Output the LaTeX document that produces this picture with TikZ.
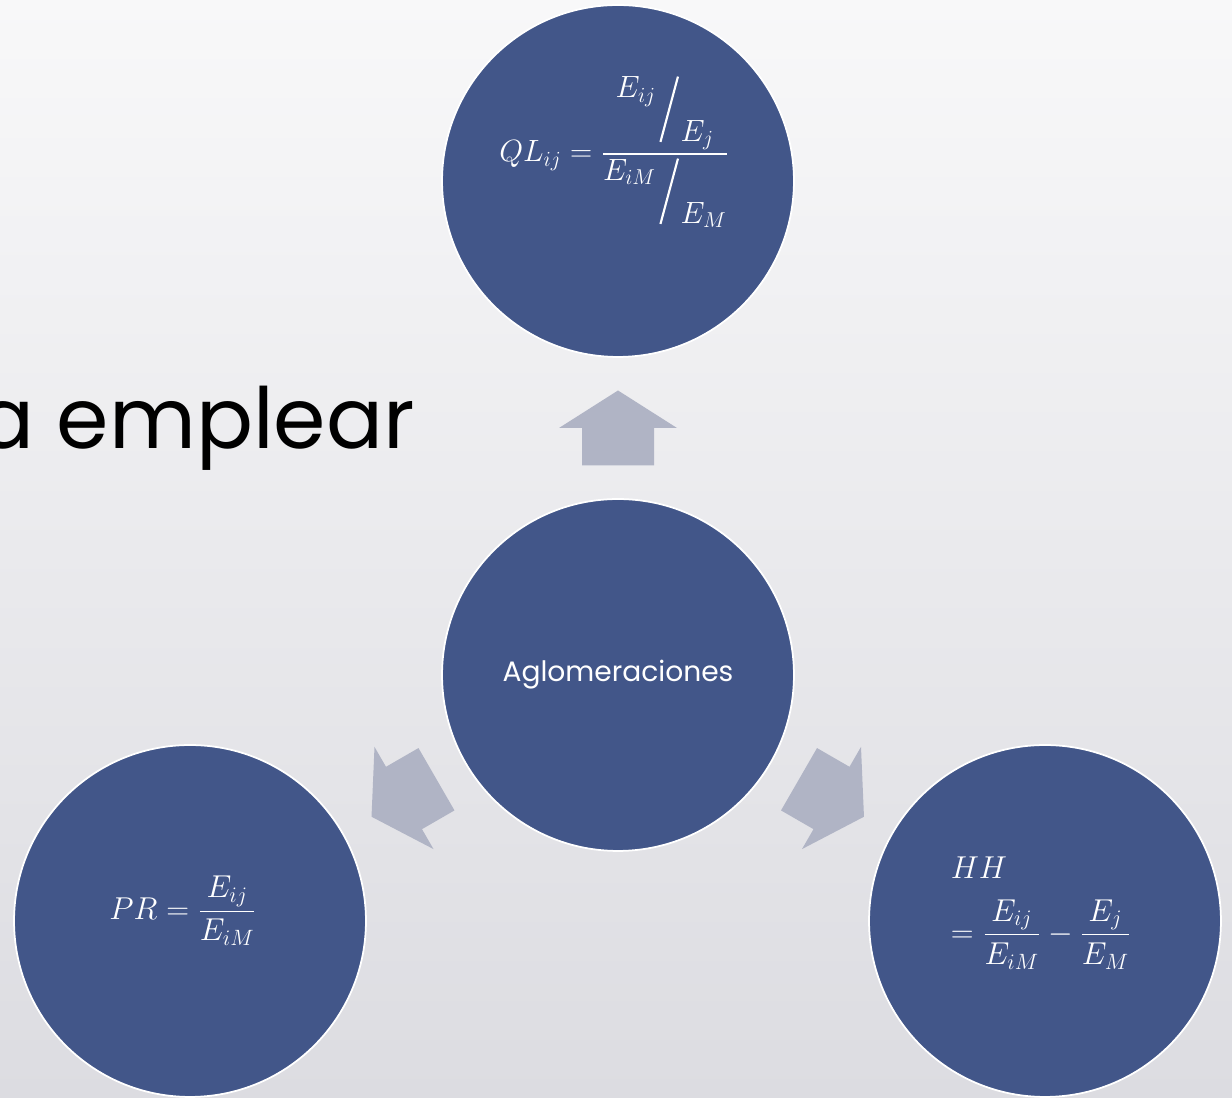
\RequirePackage{fix-cm}
\documentclass[tikz,border=0pt]{standalone}
\usepackage{amsmath}
\usepackage{graphicx}
\usepackage[no-math]{fontspec}
\setmainfont{Poppins}
\usetikzlibrary{calc}

\definecolor{bubbleblue}{RGB}{66,86,137}
\definecolor{arrowgrey}{RGB}{176,180,197}
\definecolor{bgtop}{RGB}{248,248,249}
\definecolor{bgbottom}{RGB}{220,220,225}

\newcommand{\slfrac}[2]{\raisebox{0.7em}{$#1$}\mkern2mu\raisebox{-0.72em}{\rotatebox{-15}{\rule{0.07em}{2.2em}}}\mkern1mu\raisebox{-0.7em}{$#2$}}

\begin{document}
\begin{tikzpicture}[x=0.02cm, y=0.02cm,
  bubble/.style={circle, fill=bubbleblue, draw=white, line width=1pt,
    minimum size=7.04cm, inner sep=0pt, text=white},
  formula/.style={text=white, inner sep=0pt},
  blockarrow/.pic={
    \fill[arrowgrey] (-37.5,-36) -- (0,-36) -- (0,-59) -- (37.5,0)
      -- (0,59) -- (0,36) -- (-37.5,36) -- cycle;
  }]
  \shade[top color=bgtop, bottom color=bgbottom] (0,0) rectangle (1232,1098);
  \useasboundingbox (0,0) rectangle (1232,1098);

  \node[anchor=base east, inner sep=0pt, font=\fontsize{48}{56}\selectfont]
    (title) at (415,649) {a emplear};

  \node[bubble, font=\fontsize{16}{19}\selectfont] (agl) at (618,423) {Aglomeraciones};
  \node[bubble] (ql) at (618,917) {};
  \node[bubble] (pr) at (190,177) {};
  \node[bubble] (hh) at (1045,177) {};

  \foreach \tgt/\ang in {ql/90, pr/210, hh/-30}
    \pic[rotate=\ang] at ($(agl)!0.5!(\tgt)$) {blockarrow};

  \node[formula, font=\fontsize{17.5}{21}\selectfont] (qlf) at ($(ql)+(-4,29)$)
    {$QL_{ij}=\dfrac{\slfrac{E_{ij}}{E_j}}{\slfrac{E_{iM}}{E_M}}$};
  \node[formula, font=\fontsize{18}{22}\selectfont] (prf) at ($(pr)+(-7,10)$)
    {$PR=\dfrac{E_{ij}}{E_{iM}}$};
  \node[formula, align=left, font=\fontsize{18}{21}\selectfont] (hhf) at ($(hh)+(-4,8)$)
    {$HH$\\[11pt]$=\dfrac{E_{ij}}{E_{iM}}-\dfrac{E_j}{E_M}$};
\end{tikzpicture}
\end{document}
